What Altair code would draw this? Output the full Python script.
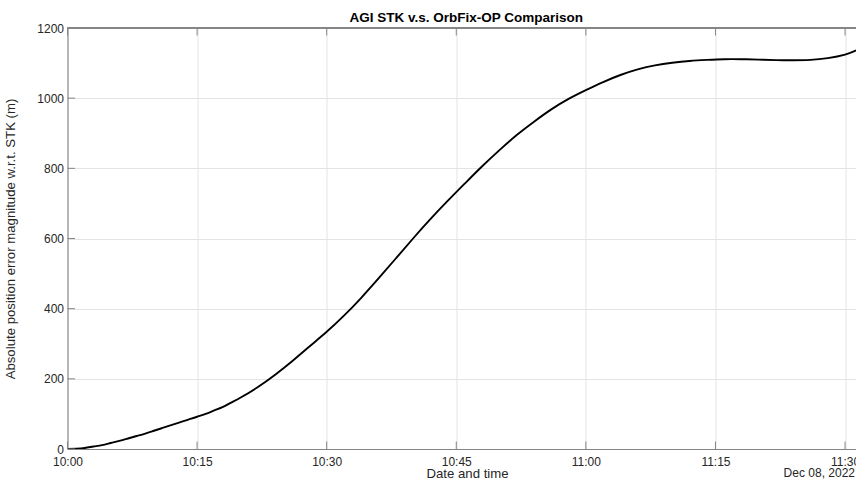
import altair as alt
import pandas as pd

# ---- data ----
minutes = [0, 1, 2, 3, 4, 5, 6, 7, 8, 9, 10, 11, 12, 13, 14, 15, 16, 17, 18, 19,
           20, 22, 24, 26, 28, 30, 32, 34, 36, 38, 40, 42, 44, 46, 48, 50, 52, 54,
           56, 58, 60, 62, 64, 66, 68, 70, 72, 74, 76, 78, 80, 82, 84, 86, 88, 90, 91.3]
error_m = [0, 1, 3, 7, 11, 17, 23, 30, 37, 44, 52, 60, 68, 76, 84, 92, 100, 110, 120, 133,
           146, 176, 211, 250, 292, 334, 380, 431, 486, 543, 600, 655, 707, 757, 806, 852, 895, 933,
           968, 998, 1023, 1046, 1066, 1082, 1093.5, 1101, 1106, 1109, 1111, 1111, 1110, 1108.5, 1108, 1109, 1114, 1124, 1136]

x_tick_minutes = [0, 15, 30, 45, 60, 75, 90]
y_ticks = [0, 200, 400, 600, 800, 1000, 1200]

title_text = "AGI STK v.s. OrbFix-OP Comparison"
x_title = "Date and time"
y_title = "Absolute position error magnitude w.r.t. STK (m)"
date_label = "Dec 08, 2022"

start = pd.Timestamp("2022-12-08 10:00:00")
df = pd.DataFrame({
    "time": [(start + pd.Timedelta(minutes=m)).strftime("%Y-%m-%dT%H:%M:%S") for m in minutes],
    "err": error_m,
})
xt = pd.DataFrame({"time": [(start + pd.Timedelta(minutes=m)).strftime("%Y-%m-%dT%H:%M:%S") for m in x_tick_minutes]})
yt = pd.DataFrame({"v": y_ticks})

W, H = 788.5, 421
FONT = "Liberation Sans"
AX = "#858585"
TXT = "#262626"

x_vals = [alt.DateTime(year=2022, month=12, date=8, hours=10 + m // 60, minutes=m % 60) for m in x_tick_minutes]
x_dom = [alt.DateTime(year=2022, month=12, date=8, hours=10, minutes=0),
         alt.DateTime(year=2022, month=12, date=8, hours=11, minutes=31, seconds=16)]

xscale = alt.Scale(domain=x_dom)
yscale = alt.Scale(domain=[0, 1200])

line = alt.Chart(df).mark_line(color="#000000", strokeWidth=1.9, interpolate="natural", clip=True).encode(
    x=alt.X("time:T", scale=xscale,
            axis=alt.Axis(values=x_vals, format="%H:%M", tickSize=0, labelPadding=7,
                          labelFont=FONT, labelFontSize=12, labelColor=TXT,
                          grid=True, gridColor="#e3e3e3", gridWidth=1,
                          domainColor=AX, domainWidth=1,
                          title=x_title, titleFont=FONT, titleFontSize=13.2, titleFontWeight="normal",
                          titleColor=TXT, titleX=399.5, titleY=28, titleBaseline="alphabetic",
                          titleAlign="center", labelFlush=False, labelOverlap=False)),
    y=alt.Y("err:Q", scale=yscale,
            axis=alt.Axis(values=y_ticks, format="d", tickSize=0, labelPadding=4,
                          labelFont=FONT, labelFontSize=12, labelColor=TXT,
                          grid=True, gridColor="#e3e3e3", gridWidth=1,
                          domainColor=AX, domainWidth=1,
                          title=y_title, titleFont=FONT, titleFontSize=13.2, titleFontWeight="normal",
                          titleColor=TXT, titleX=-57, titleY=210.5, titleAngle=270,
                          titleBaseline="middle", titleAlign="center", labelFlush=False)),
)

xt_bottom = alt.Chart(xt).mark_rule(color=AX, strokeWidth=1).encode(
    x=alt.X("time:T", scale=xscale), y=alt.value(H), y2=alt.value(H - 7.5))
xt_top = alt.Chart(xt).mark_rule(color=AX, strokeWidth=1).encode(
    x=alt.X("time:T", scale=xscale), y=alt.value(0), y2=alt.value(7.5))
yt_left = alt.Chart(yt).mark_rule(color=AX, strokeWidth=1).encode(
    y=alt.Y("v:Q", scale=yscale), x=alt.value(0), x2=alt.value(7.5))
top_border = alt.Chart(yt).mark_rule(color=AX, strokeWidth=1).encode(
    x=alt.value(0), x2=alt.value(W), y=alt.value(0))
date_text = alt.Chart(yt).transform_filter("datum.v == 0").mark_text(
    text=date_label, font=FONT, fontSize=12, color=TXT, align="right", baseline="alphabetic").encode(
    x=alt.value(W - 1), y=alt.value(H + 28))

chart = alt.layer(line, xt_bottom, xt_top, yt_left, top_border, date_text).properties(
    width=W, height=H,
    title=alt.TitleParams(title_text, font=FONT, fontSize=13.5, fontWeight="bold", color="#000000",
                          anchor="middle", dx=4.5, dy=8.5, offset=6),
    padding={"left": 67.5, "top": 28, "right": 0, "bottom": 38},
    autosize=alt.AutoSizeParams(type="none"),
).configure_view(stroke=None).configure(background="#ffffff")

chart.save("out.html", embed_options={"renderer": "svg", "actions": False})
